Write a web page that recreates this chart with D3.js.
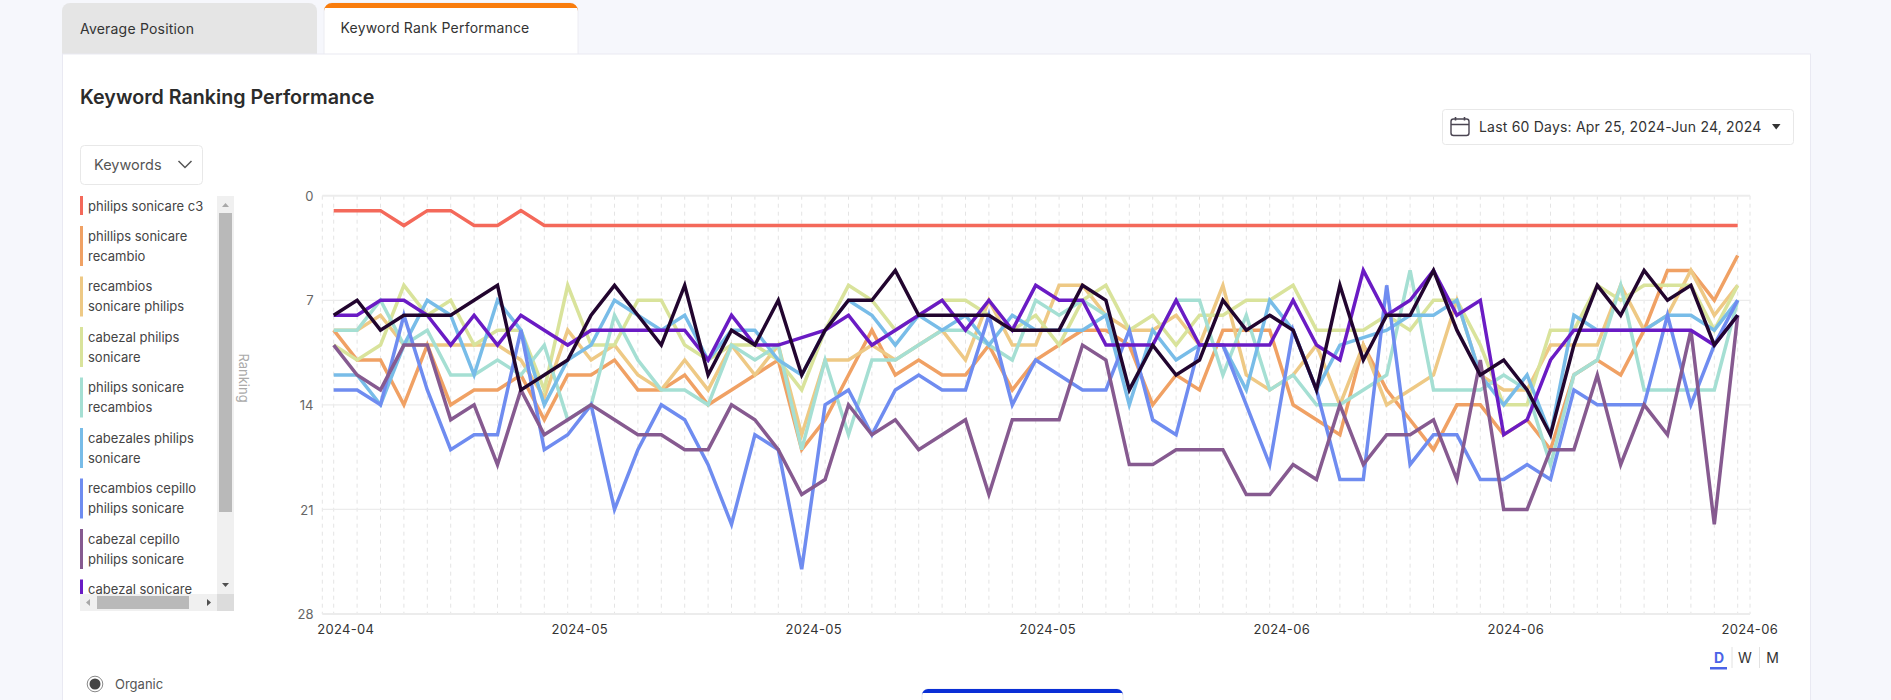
<!DOCTYPE html>
<html>
<head>
<meta charset="utf-8">
<script src="https://cdn.jsdelivr.net/npm/d3@7"></script>
<style>
  html, body { margin: 0; padding: 0; background: #f6f7fc; overflow: hidden; }
  svg { display: block; font-family: Inter, sans-serif; }
</style>
</head>
<body>
<svg id="canvas"></svg>
<script>
// values, one list per keyword, Apr 25 to Jun 24
const startDay = "2024-04-25";
const endDay = "2024-06-24";
const yTicks = [0, 7, 14, 21, 28];
const tickEveryDays = 10;

const philipsSonicareC3 = [1,1,1,2,1,1,2,2,1,2, 2,2,2,2,2,2,2,2,2,2, 2,2,2,2,2,2,2,2,2,2, 2,2,2,2,2,2,2,2,2,2, 2,2,2,2,2,2,2,2,2,2, 2,2,2,2,2,2,2,2,2,2,2];
const philipsSonicareRecambio = [9,11,11,14,10,14,13,13,12,15, 12,12,11,13,13,12,14,13,12,11, 17,15,12,9,12,11,12,12,10,13, 11,10,9,9,10,14,12,13,9,9, 9,14,15,16,10,13,15,17,14,14, 16,15,17,12,11,12,9,5,5,7,4];
const recambiosSonicarePhilips = [9,9,8,10,10,10,10,10,11,13.5, 9,11,10,12,13,11,13,10,12,10, 16,11,11,10,11,10,9,11,7,10, 10,6,6,8,9,9,8,10,6,12, 13,12,10,14,10,14,13,12,7,12, 13,13,10,10,10,6,9,8,5,8,6];
const cabezalPhilipsSonicare = [10,11,10,6,8,7,10,9,9,13, 6,10,10,7,7,10,11,10,10,11, 13,9,6,7,9,8,7,7,8,9, 8,10,7,6,9,8,10,8,8,7, 7,6,9,9,9,8,9,7,7,10, 14,14,9,9,6,7,6,6,6,9,6];
const philipsSonicareRecambios = [9,9,7,10,9,12,12,11,12,10, 15,14,8,11,13,13,14,10,11,10, 17,11,16,11,11,10,9,9,10,11, 7,8,7,8,13,10,7,7,12,8, 13,12,14,14,13,12,5,13,13,13, 12,13,18,12,11,6,13,13,13,13,7];
const cabezalesPhilipsSonicare = [12,12,14,10,7,8,12,7,9,14, 11,10,7,8,9,8,11,9,9,11, 12,9,7,8,10,8,9,8,10,8, 9,9,9,8,14,9,11,10,10,13, 7,9,13,10,9.5,9,8,8,7,12, 14,12,16,8,9,9,9,8,8,9,7];
const recambiosCepilloPhilips = [13,13,14,8,13,17,16,16,9,17, 16,14,21,17,14,15,18,22,16,17, 25,14,13,16,13,12,13,13,8,14, 11,12,13,13,9,15,16,10,10,14, 18,9,13,19,19,6,18,16,16,19, 19,18,19,13,14,14,14,8,14,10,7];
const cabezalCepilloPhilips = [10,12,13,10,10,15,14,18,13,16, 15,14,15,16,16,17,17,14,15,17, 20,19,14,16,15,17,16,15,20,15, 15,15,10,11,18,18,17,17,17,20, 20,18,19,14,18,16,16,15,19,11, 21,21,17,17,12,18,14,16,9,22,8];
const cabezalSonicare = [8,8,7,7,8,10,8,10,8,9, 10,9,9,9,9,9,11,8,10,10, 9.5,9,8,10,9,8,7,9,7,9, 6,7,7,10,10,10,7,10,10,10, 10,7,10,11,5,8,7,5,8,7, 16,15,11,9,9,9,9,9,9,10,8];
const hiddenKeyword = [8,7,9,8,8,8,7,6,13,12, 11,8,6,8,10,6,12,9,10,7, 12,9,7,7,5,8,8,8,8,9, 9,9,6,7,13,10,12,11,7,9, 8,9,13,6,11,8,8,5,9,12, 11,13,16,10,6,8,5,7,6,10,8];

const seriesValues = [philipsSonicareC3, philipsSonicareRecambio, recambiosSonicarePhilips, cabezalPhilipsSonicare, philipsSonicareRecambios, cabezalesPhilipsSonicare, recambiosCepilloPhilips, cabezalCepilloPhilips, cabezalSonicare, hiddenKeyword];
const seriesColors = ["#f4695a", "#f0a164", "#eec985", "#d9e39b", "#a5dfd3", "#78bce8", "#6f8cf0", "#865a90", "#6a1bc4", "#22052f"];

// legend text, wrapped the way the list wraps it
const legendLabels = [
  ["philips sonicare c3"],
  ["phillips sonicare", "recambio"],
  ["recambios", "sonicare philips"],
  ["cabezal philips", "sonicare"],
  ["philips sonicare", "recambios"],
  ["cabezales philips", "sonicare"],
  ["recambios cepillo", "philips sonicare"],
  ["cabezal cepillo", "philips sonicare"],
  ["cabezal sonicare", "philips"]
];

let width = 1891;
let height = 700;

let canvas = d3.select("#canvas").attr("width", width).attr("height", height);

let parseDay = d3.utcParse("%Y-%m-%d");
let days = d3.utcDay.range(parseDay(startDay), d3.utcDay.offset(parseDay(endDay), 1));

let xScale = d3.scaleUtc().domain([days[0], days[days.length - 1]]).range([333.7, 1737.7]);
let yScale = d3.scaleLinear().domain([0, 28]).range([195.7, 614]);
let plotLeft = 322.3;
let plotRight = 1750;

let drawPage = () => {
  // tabs
  canvas.append("path").attr("d", "M62,60V11a8,8 0 0 1 8,-8H309a8,8 0 0 1 8,8V60Z").attr("fill", "#e5e5e5");
  canvas.append("path").attr("d", "M324,60V11a8,8 0 0 1 8,-8H570a8,8 0 0 1 8,8V60Z").attr("fill", "#fff").attr("stroke", "#ececf2");
  canvas.append("path").attr("d", "M324,8V11a8,8 0 0 1 8,-8H570a8,8 0 0 1 8,8V8Z").attr("fill", "#f97c0c");
  canvas.append("text").attr("x", 80).attr("y", 34).attr("font-size", 14).attr("letter-spacing", 0.2).attr("fill", "#333").text("Average Position");
  canvas.append("text").attr("x", 340.5).attr("y", 33).attr("font-size", 14).attr("letter-spacing", 0.2).attr("fill", "#333").text("Keyword Rank Performance");

  // card
  canvas.append("rect").attr("x", 62.5).attr("y", 54).attr("width", 1748).attr("height", 660).attr("fill", "#fff").attr("stroke", "#e9e9f2");
  canvas.append("text").attr("x", 80).attr("y", 104).attr("font-size", 19.7).attr("font-weight", 600).attr("fill", "#2b2b2b").text("Keyword Ranking Performance");

  // date picker
  canvas.append("rect").attr("x", 1442.5).attr("y", 109.5).attr("width", 351).attr("height", 35).attr("rx", 3).attr("fill", "#fff").attr("stroke", "#e8e8e8");
  let cal = canvas.append("g").attr("fill", "none").attr("stroke", "#4a4552").attr("stroke-width", 1.4);
  cal.append("rect").attr("x", 1451).attr("y", 119).attr("width", 18).attr("height", 16.5).attr("rx", 2.5);
  cal.append("path").attr("d", "M1451,124.5H1469M1455.5,117V120.5M1464.5,117V120.5").attr("stroke-width", 1.6);
  canvas.append("text").attr("x", 1479).attr("y", 132).attr("font-size", 14).attr("letter-spacing", 0.2).attr("fill", "#333").text("Last 60 Days: Apr 25, 2024-Jun 24, 2024");
  canvas.append("path").attr("d", "M1772,124H1780.5L1776.2,129.5Z").attr("fill", "#333");

  // keywords dropdown
  canvas.append("rect").attr("x", 80.5).attr("y", 145.5).attr("width", 122).attr("height", 39).attr("rx", 4).attr("fill", "#fff").attr("stroke", "#e8e8e8");
  canvas.append("text").attr("x", 94).attr("y", 169.5).attr("font-size", 14.5).attr("fill", "#555").text("Keywords");
  canvas.append("path").attr("d", "M178.5,161L185,167.5L191.5,161").attr("fill", "none").attr("stroke", "#555").attr("stroke-width", 1.5);

  // period switch
  canvas.append("text").attr("x", 1719).attr("y", 663).attr("text-anchor", "middle").attr("font-size", 14).attr("font-weight", 700).attr("fill", "#4a63e7").text("D");
  canvas.append("text").attr("x", 1745).attr("y", 663).attr("text-anchor", "middle").attr("font-size", 14).attr("fill", "#333").text("W");
  canvas.append("text").attr("x", 1772.5).attr("y", 663).attr("text-anchor", "middle").attr("font-size", 14).attr("fill", "#333").text("M");
  canvas.append("rect").attr("x", 1710).attr("y", 667).attr("width", 17).attr("height", 2.5).attr("fill", "#4a63e7");
  canvas.append("path").attr("d", "M1732,647V668M1759.5,647V668").attr("stroke", "#e2e2e2");

  // radio
  canvas.append("circle").attr("cx", 95).attr("cy", 684).attr("r", 7.8).attr("fill", "#fff").attr("stroke", "#8a8a8a");
  canvas.append("circle").attr("cx", 95).attr("cy", 684).attr("r", 5.5).attr("fill", "#444");
  canvas.append("text").attr("x", 115).attr("y", 689).attr("font-size", 13).attr("fill", "#555").text("Organic");

  // next card starting below the chart
  canvas.append("path").attr("d", "M922,710V695a6,6 0 0 1 6,-6H1117a6,6 0 0 1 6,6V710Z").attr("fill", "#fff").attr("stroke", "#e9e9f2");
  canvas.append("path").attr("d", "M922,693V695a6,6 0 0 1 6,-6H1117a6,6 0 0 1 6,6V693Z").attr("fill", "#0a2fd6");
}

let drawLegend = () => {
  canvas.append("clipPath").attr("id", "legendClip").append("rect").attr("x", 80).attr("y", 196).attr("width", 137).attr("height", 398);

  let list = canvas.append("g").attr("clip-path", "url(#legendClip)");
  let top = 196;
  legendLabels.forEach((lines, i) => {
    let itemHeight = lines.length * 20;
    list.append("rect").attr("x", 80).attr("y", top).attr("width", 3).attr("height", itemHeight - (lines.length > 1 ? 0 : 1)).attr("fill", seriesColors[i]);
    lines.forEach((line, j) => {
      list.append("text").attr("x", 88).attr("y", top + 14.5 + j * 20).attr("font-size", 13).attr("fill", "#444").text(line);
    });
    top += itemHeight + (lines.length > 1 ? 10.5 : 10);
  });

  // scrollbars
  canvas.append("rect").attr("x", 217).attr("y", 196).attr("width", 17).attr("height", 398).attr("fill", "#f0f0f0");
  canvas.append("rect").attr("x", 219).attr("y", 213).attr("width", 13).attr("height", 299).attr("fill", "#b9b9b9");
  canvas.append("path").attr("d", "M222,207L225.5,203L229,207Z").attr("fill", "#a8a8a8");
  canvas.append("path").attr("d", "M222,583L225.5,587L229,583Z").attr("fill", "#505050");
  canvas.append("rect").attr("x", 80).attr("y", 594).attr("width", 137).attr("height", 17).attr("fill", "#f0f0f0");
  canvas.append("rect").attr("x", 97).attr("y", 596).attr("width", 92).attr("height", 13).attr("fill", "#b9b9b9");
  canvas.append("rect").attr("x", 217).attr("y", 594).attr("width", 17).attr("height", 17).attr("fill", "#dcdcdc");
  canvas.append("path").attr("d", "M90,599L86,602.5L90,606Z").attr("fill", "#a8a8a8");
  canvas.append("path").attr("d", "M207,599L211,602.5L207,606Z").attr("fill", "#505050");
}

let drawGrid = () => {
  let grid = canvas.append("g");

  grid.selectAll(".vline")
      .data(days)
      .enter()
      .append("line")
      .attr("x1", d => xScale(d))
      .attr("x2", d => xScale(d))
      .attr("y1", yScale(0))
      .attr("y2", yScale(28))
      .attr("stroke", "#e4e4e4")
      .attr("stroke-dasharray", "4 4");

  grid.selectAll(".edge")
      .data([plotLeft, plotRight])
      .enter()
      .append("line")
      .attr("x1", d => d)
      .attr("x2", d => d)
      .attr("y1", yScale(0))
      .attr("y2", yScale(28))
      .attr("stroke", "#e4e4e4")
      .attr("stroke-dasharray", "4 4");

  grid.selectAll(".hline")
      .data(yTicks)
      .enter()
      .append("line")
      .attr("x1", plotLeft)
      .attr("x2", plotRight)
      .attr("y1", d => yScale(d))
      .attr("y2", d => yScale(d))
      .attr("stroke", "#ececec")
      .attr("stroke-width", d => (d === 0 || d === 28) ? 2 : 1.2);
}

let drawAxes = () => {
  let yAxis = d3.axisLeft(yScale).tickValues(yTicks).tickSize(0).tickPadding(0);
  let yGroup = canvas.append("g")
        .attr("transform", "translate(313.5,0.5)")
        .call(yAxis);
  yGroup.select(".domain").remove();
  yGroup.selectAll("text").attr("font-family", "Inter, sans-serif").attr("font-size", 13).attr("fill", "#666");

  let xTicks = days.filter((d, i) => i % tickEveryDays === 0);
  let xAxis = d3.axisBottom(xScale).tickValues(xTicks).tickFormat(d3.utcFormat("%Y-%m")).tickSize(0).tickPadding(0);
  let xGroup = canvas.append("g")
        .attr("transform", "translate(11.5,625)")
        .call(xAxis);
  xGroup.select(".domain").remove();
  xGroup.selectAll("text").attr("font-family", "Inter, sans-serif").attr("font-size", 13).attr("letter-spacing", 0.3).attr("fill", "#333");

  canvas.append("text")
        .attr("transform", "translate(238.5,378) rotate(90)")
        .attr("text-anchor", "middle")
        .attr("font-size", 13)
        .attr("fill", "#aaa")
        .text("Ranking");
}

let drawLines = () => {
  let line = d3.line()
               .x((d, i) => xScale(days[i]))
               .y(d => yScale(d));

  canvas.append("g")
        .attr("fill", "none")
        .attr("stroke-width", 3.5)
        .attr("stroke-linejoin", "miter")
        .selectAll("path")
        .data(seriesValues)
        .enter()
        .append("path")
        .attr("d", d => line(d))
        .attr("stroke", (d, i) => seriesColors[i]);
}

drawPage();
drawLegend();
drawGrid();
drawAxes();
drawLines();
</script>
</body>
</html>
